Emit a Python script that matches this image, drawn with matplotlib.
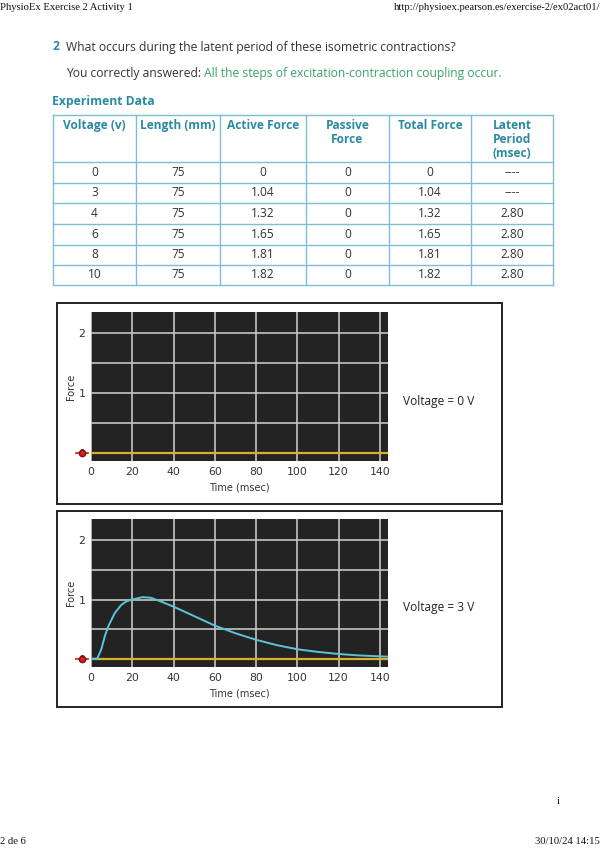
import matplotlib
matplotlib.use("Agg")
import matplotlib.pyplot as plt
from matplotlib.patches import Rectangle

# ---- data ----
voltage = ["0", "3", "4", "6", "8", "10"]
length_mm = ["75", "75", "75", "75", "75", "75"]
active_force = ["0", "1.04", "1.32", "1.65", "1.81", "1.82"]
passive_force = ["0", "0", "0", "0", "0", "0"]
total_force = ["0", "1.04", "1.32", "1.65", "1.81", "1.82"]
latent_period = ["----", "----", "2.80", "2.80", "2.80", "2.80"]
col_headers = ["Voltage (v)", "Length (mm)", "Active Force", "Passive\nForce",
               "Total Force", "Latent\nPeriod\n(msec)"]

# twitch trace at 3 V
t_3v = [0, 3, 5, 6.7, 8.3, 11.5, 14.7, 17.3, 20, 25, 29, 33.6, 40, 50, 60, 70,
        80, 90, 100, 110, 120, 130, 140, 144]
f_3v = [0, 0, 0.16, 0.38, 0.54, 0.77, 0.91, 0.97, 1.0, 1.04, 1.03, 0.97, 0.88, 0.72,
        0.56, 0.43, 0.32, 0.23, 0.16, 0.115, 0.08, 0.055, 0.04, 0.035]

x_ticks = [0, 20, 40, 60, 80, 100, 120, 140]
y_ticks = [0, 1, 2]

TEAL = "#2a8aa3"
GREEN = "#3aa36a"
TXT = "#333333"
LINE = "#7cc0cf"

W, H = 600, 848
fig = plt.figure(figsize=(6, 8.48), dpi=100)
page = fig.add_axes([0, 0, 1, 1])
page.set_xlim(0, W)
page.set_ylim(H, 0)
page.axis("off")

sans = "Open Sans"
serif = "Liberation Serif"

# browser header / footer
page.text(0, 8, "PhysioEx Exercise 2 Activity 1", family=serif, fontsize=7.7,
          va="center", ha="left", color="#111")
page.text(600, 8, "http://physioex.pearson.es/exercise-2/ex02act01/", family=serif,
          fontsize=7.7, va="center", ha="right", color="#111")
page.text(0, 842, "2 de 6", family=serif, fontsize=7.7, va="center", color="#111")
page.text(600, 842, "30/10/24 14:15", family=serif, fontsize=7.7, va="center",
          ha="right", color="#111")
page.text(557, 801, "i", family=serif, fontsize=7.7, va="center", color="#111")

# question text
page.text(53, 47, "2", family=sans, fontsize=8.7, weight="bold", color=TEAL, va="center")
page.text(66, 47, "What occurs during the latent period of these isometric contractions?",
          family=sans, fontsize=8.7, color=TXT, va="center")
a = page.text(66, 73, "You correctly answered: ", family=sans, fontsize=8.7,
              color=TXT, va="center")
page.annotate("All the steps of excitation-contraction coupling occur.",
              xycoords=a, xy=(1, 0.5), va="center", family=sans, fontsize=8.7,
              color=GREEN)
page.text(52, 101, "Experiment Data", family=sans, fontsize=8.7, weight="bold",
          color=TEAL, va="center")

# table
col_x = [53, 136, 220, 306, 389, 471, 553]
row_y = [115, 162, 182.5, 203.3, 224.2, 245, 265, 285]
for x in col_x:
    page.plot([x, x], [row_y[0], row_y[-1]], color=LINE, lw=1)
for y in row_y:
    page.plot([col_x[0], col_x[-1]], [y, y], color=LINE, lw=1)
for j, h in enumerate(col_headers):
    page.text((col_x[j] + col_x[j + 1]) / 2, 119, h, family=sans, fontsize=8.6,
              weight="bold", color=TEAL, ha="center", va="top", linespacing=1.1)
columns = [voltage, length_mm, active_force, passive_force, total_force, latent_period]
for j, col in enumerate(columns):
    for i, v in enumerate(col):
        page.text((col_x[j] + col_x[j + 1]) / 2, (row_y[i + 1] + row_y[i + 2]) / 2, v,
                  family=sans, fontsize=8.6, color=TXT, ha="center", va="center")

# chart frames
page.add_patch(Rectangle((57, 303), 445, 201, fill=False, lw=1.4, ec="#222"))
page.add_patch(Rectangle((57, 511), 445, 196, fill=False, lw=1.4, ec="#222"))


def twitch_axes(top, bottom, t, f, label, label_y):
    ax = fig.add_axes([91 / W, 1 - bottom / H, 297 / W, (bottom - top) / H])
    ax.set_facecolor("#232323")
    ax.set_xlim(0, 144)
    ax.set_ylim(-0.14, 2.36)
    ax.set_xticks(x_ticks)
    ax.set_yticks(y_ticks)
    ax.set_yticks([0.5, 1.5], minor=True)
    ax.grid(True, which="both", color="#c4c4c4", lw=1.2)
    ax.set_axisbelow(True)
    ax.tick_params(length=0, labelsize=7.8, colors="#333", pad=4)
    ax.tick_params(which="minor", length=0)
    for s in ax.spines.values():
        s.set_visible(False)
    ax.set_xlabel("Time (msec)", fontsize=7, color="#333", labelpad=4)
    ax.set_ylabel("Force", fontsize=7, color="#333", labelpad=2)
    ax.axhline(0, color="#d9b12a", lw=1.6, zorder=3)
    if f is not None:
        ax.plot(t, f, color="#5cc3d9", lw=1.4, zorder=4)
    # red baseline marker
    ax.plot([-7.5, -1.5], [0, 0], color="#c81818", lw=1.2, clip_on=False, zorder=6)
    ax.plot([-4.5], [0], marker="o", ms=4.5, mfc="#d42020", mec="#8a0c0c",
            clip_on=False, zorder=7)
    page.text(403, label_y, label, family=sans, fontsize=8.6, color="#222", va="center")
    return ax


twitch_axes(312, 461, None, None, "Voltage = 0 V", 401)
twitch_axes(519, 667, t_3v, f_3v, "Voltage = 3 V", 608)

fig.savefig("out.png", dpi=100)
